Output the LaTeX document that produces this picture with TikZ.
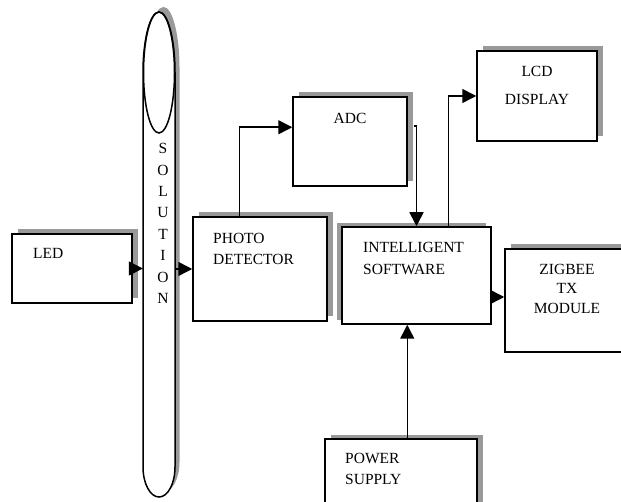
\documentclass[tikz,border=0pt]{standalone}
\usepackage{fontspec}
\setmainfont{Liberation Serif}
\usetikzlibrary{shadows,arrows.meta,calc}

\begin{document}
\begin{tikzpicture}[x=1pt, y=-1pt,
  blk/.style={draw, line width=1.5pt, fill=white, rectangle, inner sep=0pt},
  shd/.style={general shadow={fill=black!40, shadow xshift=5.5pt, shadow yshift=4.5pt}},
  shdleft/.style={general shadow={fill=black!40, shadow xshift=-5pt, shadow yshift=4pt}},
  lbl/.style={inner sep=0pt, font=\fontsize{15.5}{21.5}\selectfont},
  flow/.style={line width=1.5pt, -{Triangle[length=14pt,width=14pt]}}]
% page frame, the lower and right boxes run off the edge
\useasboundingbox (0,0) rectangle (621,502);
\clip (0,0) rectangle (621,502);
% solution tube
\node[inner sep=0pt, minimum width=32pt, minimum height=485pt] (sol) at (159,254.5) {};
\fill[black!40, shift={(4.5,-5)}] (175,72.5) -- (175,467)
  arc[start angle=0, end angle=180, x radius=16, y radius=30] -- (143,72.5)
  arc[start angle=180, end angle=360, x radius=16, y radius=60.5] -- cycle;
\draw[line width=1.5pt, fill=white] (175,72.5) -- (175,467)
  arc[start angle=0, end angle=180, x radius=16, y radius=30] -- (143,72.5)
  arc[start angle=180, end angle=360, x radius=16, y radius=60.5] -- cycle;
\draw[line width=1.5pt] (159,72.5) ellipse[x radius=15.5, y radius=60.5];
\node[lbl, align=center, font=\fontsize{15.5}{21.4}\selectfont] (soltxt) at (163,223.5)
  {S\\O\\L\\U\\T\\I\\O\\N};
% blocks
\node[blk, shd, minimum width=120pt, minimum height=69pt] (led) at (72,268.5) {};
\node[blk, shd, minimum width=134pt, minimum height=104pt] (photo) at (260,269) {};
\node[blk, shd, minimum width=114pt, minimum height=89pt] (adc) at (350,141.5) {};
\node[blk, shdleft, minimum width=149pt, minimum height=97pt] (soft) at (416.5,275.5) {};
\node[blk, shd, minimum width=120pt, minimum height=90pt] (lcd) at (537,96) {};
\node[blk, shd, minimum width=124pt, minimum height=103pt] (zig) at (567,300.5) {};
\node[blk, shd, minimum width=152pt, minimum height=90pt] (pwr) at (401,484) {};
% labels
\node[lbl, anchor=west] (ledtxt) at (33,253) {LED};
\node[lbl, anchor=west, align=left] (phototxt) at (213,249) {PHOTO\\DETECTOR};
\node[lbl] (adctxt) at (350,118) {ADC};
\node[lbl, anchor=west, align=left] (softtxt) at (363,258.5) {INTELLIGENT\\SOFTWARE};
\node[lbl, align=center, font=\fontsize{15.5}{28}\selectfont] (lcdtxt) at (537,85) {LCD\\DISPLAY};
\node[lbl, align=center, font=\fontsize{15.5}{19.5}\selectfont] (zigtxt) at (567,288.5) {ZIGBEE\\TX\\MODULE};
\node[lbl, anchor=west, align=left, font=\fontsize{15.5}{20.5}\selectfont] (pwrtxt) at (345,469) {POWER\\SUPPLY};
% connectors
\draw[flow] (led.east) -- (led.east -| sol.west);
\draw[flow] (photo.west -| sol.east) -- (photo.west);
\draw[flow] ($(photo.north west)+(47,0)$) |- ($(adc.north west)+(0,31)$);
\draw[flow] ($(adc.north east)+(6,30)$) -| (soft.north);
\draw[flow] ($(soft.north west)+(107,0)$) |- (lcd.west);
\draw[flow] ([yshift=3.5pt]zig.west -| soft.east) -- ([yshift=3.5pt]zig.west);
\draw[flow] ($(pwr.north west)+(83,0)$) coordinate (pin) -- (pin |- soft.south);
\end{tikzpicture}
\end{document}
